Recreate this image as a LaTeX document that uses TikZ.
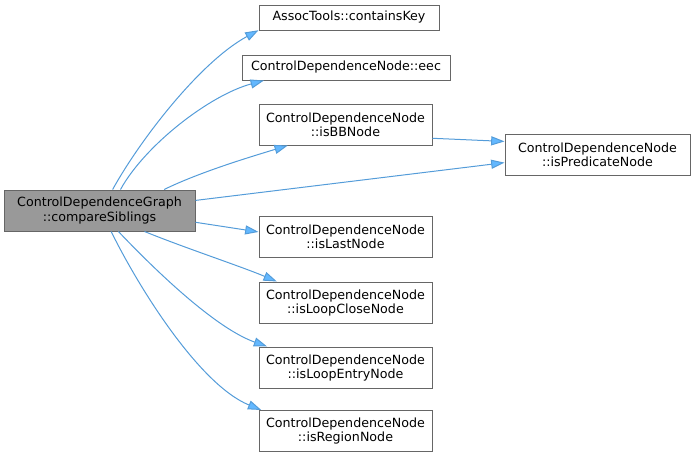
\documentclass[tikz,border=0pt]{standalone}
\usepackage{fontspec}
\setmainfont{DejaVu Sans}
\usepackage{tikz}
\usetikzlibrary{arrows.meta}

\definecolor{edgeblue}{HTML}{63B8FF}
\definecolor{boxline}{HTML}{666666}
\definecolor{boxgrey}{HTML}{999999}

\begin{document}
\begin{tikzpicture}[x=0.75pt,y=-0.75pt,
    fn/.style={draw=boxline,fill=white,line width=0.75pt,inner sep=0pt,
      align=center,minimum width=129.75pt,minimum height=30.75pt,
      font=\fontsize{9.5}{10.5}\selectfont},
    call/.style={draw=edgeblue!85!black,line width=0.75pt,
      -{Triangle[length=10pt,width=6.8pt,fill=edgeblue]}}]
    \useasboundingbox (0,0) rectangle (695,457);
    \node[fn,fill=boxgrey,minimum width=143.25pt] (G0) at (99.5,210.5)
      {ControlDependenceGraph\\::compareSiblings};
    \node[fn,minimum width=135pt,minimum height=18.75pt] (N1) at (349,17.5)
      {AssocTools::containsKey};
    \node[fn,minimum width=156pt,minimum height=18.75pt] (N2) at (346,67.5)
      {ControlDependenceNode::eec};
    \node[fn] (N3) at (345.5,124.5) {ControlDependenceNode\\::isBBNode};
    \node[fn,minimum width=138.75pt] (N4) at (597.5,154.5)
      {ControlDependenceNode\\::isPredicateNode};
    \node[fn] (N5) at (345.5,236.5) {ControlDependenceNode\\::isLastNode};
    \node[fn] (N6) at (345.5,302.5) {ControlDependenceNode\\::isLoopCloseNode};
    \node[fn] (N7) at (345.5,367.5) {ControlDependenceNode\\::isLoopEntryNode};
    \node[fn] (N8) at (345.5,431) {ControlDependenceNode\\::isRegionNode};
    \draw[call] (G0.58.6) .. controls (140,140) and (200,62) .. (N1.188.7);
    \draw[call] (G0.45) .. controls (145,145) and (210,95) .. (N2.189.7);
    \draw[call] (G0.18.7) .. controls (200,172) and (250,157) .. (N3.200.3);
    \draw[call] (G0.6.9) -- (N4.185.3);
    \draw[call] (N3.351.8) -- (N4.172.9);
    \draw[call] (G0.353.1) -- (N5.177.7);
    \draw[call] (G0.335.7) .. controls (185,248) and (240,266) .. (N6.163.4);
    \draw[call] (G0.312) .. controls (155,270) and (215,328) .. (N7.165.7);
    \draw[call] (G0.299.3) .. controls (140,290) and (200,385) .. (N8.166.4);
  \end{tikzpicture}
\end{document}
